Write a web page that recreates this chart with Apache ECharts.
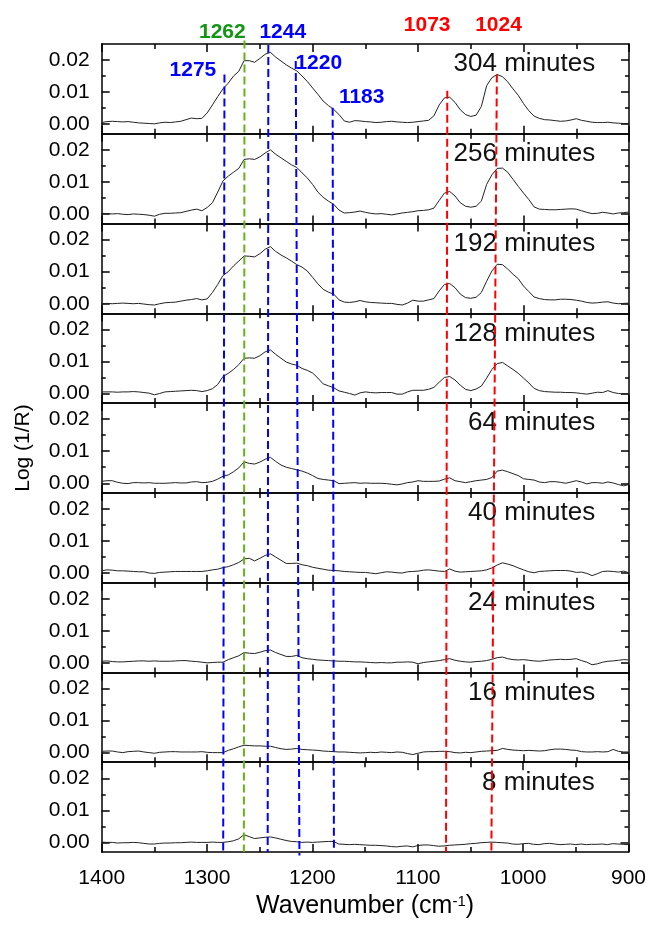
<!DOCTYPE html>
<html><head><meta charset="utf-8">
<script src="https://cdn.jsdelivr.net/npm/echarts@6/dist/echarts.min.js"></script>
<style>html,body{margin:0;padding:0;background:#fff}#c{width:649px;height:930px}</style>
</head><body><div id="c"></div>
<script>
// values in units of 0.001 Log(1/R)
const UNIT = 0.001;
const wavenumbers = [1400,1395,1390,1385,1380,1375,1370,1365,1360,1355,1350,1345,1340,1335,1330,1325,1320,1315,1310,1305,1300,1295,1290,1285,1280,1275,1270,1265,1260,1255,1250,1245,1240,1235,1230,1225,1220,1215,1210,1205,1200,1195,1190,1185,1180,1175,1170,1165,1160,1155,1150,1145,1140,1135,1130,1125,1120,1115,1110,1105,1100,1095,1090,1085,1080,1075,1070,1065,1060,1055,1050,1045,1040,1035,1030,1025,1020,1015,1010,1005,1000,995,990,985,980,975,970,965,960,955,950,945,940,935,930,925,920,915,910,905,900];

const s304 = [0.5,0.8,0.9,0.8,0.7,0.8,0.6,0.4,0.3,0.2,
 0.1,0.4,0.6,0.5,0.7,0.9,1.4,1.9,1.7,1.8,
 3.5,6.0,8.6,11.0,12.8,15.0,16.5,19.8,19.8,19.3,
 20.5,21.8,22.4,20.9,19.7,18.5,17.5,16.6,15.0,13.3,
 11.3,9.3,7.2,5.8,4.6,3.0,1.0,0.6,1.1,1.0,
 0.8,0.7,0.5,0.6,0.8,0.9,0.7,0.6,0.5,0.6,
 0.8,1.0,1.2,2.6,6.0,8.2,8.4,6.8,4.5,3.0,
 2.4,2.8,5.5,12.0,14.5,15.5,14.8,13.2,11.0,9.0,
 6.4,4.2,2.5,1.8,1.4,1.3,1.1,0.9,1.0,1.3,
 1.7,1.2,0.9,0.6,0.5,0.5,0.6,0.4,0.3,0.2,0.1];
const s256 = [0.2,0.1,0.0,0.1,-0.1,-0.2,0.0,-0.1,-0.2,-0.4,
 -0.7,-0.1,0.2,0.2,0.3,0.4,0.8,1.2,1.5,1.0,
 2.0,3.5,6.8,10.3,11.8,13.0,14.2,17.0,17.2,17.0,
 17.8,19.0,20.0,18.6,17.5,16.4,15.3,14.5,12.8,11.2,
 9.2,6.8,5.2,4.0,3.0,1.2,0.3,0.4,0.6,0.9,
 0.5,0.2,0.0,0.1,-0.1,-0.3,0.0,0.3,0.5,0.7,
 1.0,1.1,1.3,1.8,4.2,6.5,7.0,5.6,3.5,2.4,
 2.1,2.4,4.0,9.2,12.2,14.2,14.3,13.0,10.8,8.6,
 6.5,4.5,2.2,1.5,1.4,1.3,1.3,1.4,1.5,1.6,
 1.5,1.0,0.5,0.1,0.2,0.5,0.3,0.0,0.3,0.4,0.6];
const s192 = [0.0,0.1,0.0,0.1,0.2,0.1,0.0,0.1,-0.1,-0.3,
 -0.4,0.0,0.3,0.4,0.5,0.8,1.1,1.3,1.6,1.2,
 1.5,3.5,6.0,8.8,10.0,11.8,13.3,14.9,14.8,14.6,
 15.6,17.0,17.8,16.3,15.2,14.3,13.3,12.2,11.4,10.2,
 8.2,6.2,4.5,3.6,3.0,1.2,0.5,0.4,0.6,1.0,
 0.6,0.4,0.3,0.2,0.1,0.1,-0.2,-0.4,0.2,1.1,
 0.8,0.8,1.2,1.6,4.0,6.0,6.3,5.0,3.0,1.9,
 1.7,2.0,3.5,7.0,10.2,12.3,12.2,10.8,9.2,7.8,
 5.5,3.8,2.1,1.6,1.3,1.2,1.2,1.4,1.4,1.3,
 1.1,0.8,0.4,0.2,0.3,0.5,0.6,0.2,0.0,0.1,0.2];
const s128 = [0.5,0.5,0.5,0.4,0.5,0.5,0.6,0.5,0.3,0.1,
 -0.4,0.0,0.5,0.6,0.7,0.8,0.9,1.0,0.9,0.6,
 0.9,1.5,2.8,5.3,6.3,7.5,9.0,11.0,11.1,11.0,
 11.8,13.0,13.6,12.2,11.0,9.8,9.2,8.8,7.8,7.2,
 6.4,4.8,3.0,2.4,1.8,0.8,0.4,0.0,-0.5,0.2,
 0.5,0.3,0.2,0.3,0.3,0.3,-0.2,-0.2,0.5,1.0,
 1.0,1.0,1.3,1.9,3.5,5.0,5.3,4.2,2.6,1.3,
 0.9,1.4,2.3,4.8,7.5,9.3,9.7,8.6,7.5,6.3,
 4.8,3.3,1.6,0.9,0.6,0.5,0.4,0.4,0.3,0.3,
 0.2,0.0,-0.2,0.1,0.4,0.3,0.9,0.3,0.0,-0.1,0.0];
const s64 = [0.6,0.8,0.8,0.3,0.0,-0.1,0.2,0.2,0.1,0.2,
 0.0,0.0,0.0,0.1,0.2,0.1,0.1,0.4,0.5,0.2,
 0.3,0.6,1.3,2.2,2.6,3.6,4.8,6.7,6.2,6.0,
 6.6,7.5,8.1,6.8,5.7,5.0,4.6,4.2,3.8,3.2,
 2.4,1.5,1.2,1.0,0.8,-0.1,0.0,0.1,0.2,0.0,
 0.1,0.0,0.0,0.0,-0.1,-0.3,-0.5,-0.2,0.2,0.4,
 0.8,0.6,0.6,0.6,0.7,1.3,1.7,0.8,0.5,0.2,
 0.5,0.8,1.0,1.2,1.8,3.8,4.1,3.6,3.0,2.4,
 1.4,1.2,1.0,0.4,0.2,0.5,0.5,0.3,0.0,0.4,
 0.8,0.4,-0.2,0.2,0.2,0.0,0.4,0.1,-0.4,-0.8,-0.4];
const s40 = [0.7,1.0,0.9,0.7,0.7,0.6,0.5,0.4,0.4,0.0,
 -0.1,0.2,0.3,0.4,0.5,0.5,0.5,0.5,0.5,0.5,
 0.7,1.0,1.2,1.7,2.0,2.6,3.3,4.4,4.6,3.8,
 4.6,5.5,6.0,5.0,4.0,3.0,3.0,3.1,2.6,2.3,
 1.8,1.5,1.2,0.9,0.8,0.7,0.5,0.4,0.3,0.2,
 0.2,0.0,-0.2,0.1,0.4,0.3,0.1,0.0,0.4,0.5,
 0.6,0.9,1.0,0.8,0.6,0.5,1.3,0.6,0.3,0.4,
 0.5,0.6,0.7,1.0,1.6,2.5,3.2,2.8,2.3,1.6,
 1.0,0.4,0.1,0.5,0.6,0.7,0.8,0.8,0.8,0.6,
 0.2,0.3,-0.1,-0.8,-0.2,0.5,0.6,0.5,0.3,0.6,0.1];
const s24 = [0.5,0.6,0.4,0.3,0.3,0.4,0.5,0.6,0.6,0.5,
 0.6,0.5,0.5,0.5,0.6,0.7,0.7,0.5,0.4,0.2,
 0.0,0.1,0.2,0.2,1.0,1.6,2.2,3.2,3.0,2.9,
 3.3,3.8,4.0,3.2,2.6,2.0,2.0,2.3,1.6,1.3,
 1.1,0.9,0.8,0.7,0.6,0.5,0.5,0.4,0.3,0.3,
 0.2,0.1,0.0,0.1,0.0,0.0,0.2,0.2,0.3,0.2,
 -0.3,0.1,0.3,0.5,0.7,1.0,1.3,0.8,0.5,0.3,
 0.2,0.4,0.5,0.7,1.1,1.6,1.8,1.3,1.0,0.9,
 1.0,0.8,0.6,0.5,0.7,0.9,1.0,1.1,1.0,1.1,
 1.3,0.7,0.2,-0.6,-0.3,0.2,0.5,0.6,0.8,1.0,0.9];
const s16 = [0.4,0.5,0.5,0.2,0.0,0.3,0.4,0.5,0.2,0.0,
 -0.2,0.1,0.2,0.3,0.3,0.2,0.2,0.2,0.2,0.3,
 0.1,0.0,0.0,0.0,0.7,1.2,1.8,2.3,2.2,2.1,
 2.1,2.0,2.0,1.6,1.2,1.0,1.1,1.3,1.0,0.9,
 0.8,0.7,0.5,0.4,0.3,0.2,0.2,0.1,0.0,-0.1,
 0.0,0.1,0.0,0.2,0.1,0.0,0.2,0.1,-0.3,-0.6,
 -0.2,0.2,0.3,0.3,0.4,0.4,0.3,0.0,-0.1,0.1,
 0.0,0.2,0.4,0.5,0.6,0.7,1.3,1.0,0.8,0.7,
 0.6,0.7,0.6,0.5,0.6,0.9,1.1,1.1,1.0,0.8,
 0.7,0.3,0.2,0.2,0.3,0.2,0.3,1.0,0.4,0.2,0.2];
const s8 = [0.1,0.0,0.0,-0.2,-0.1,-0.1,0.0,-0.1,-0.3,-0.5,
 -0.5,-0.3,-0.2,-0.2,-0.1,-0.1,0.0,0.1,0.0,0.0,
 0.0,0.1,0.0,0.0,0.2,0.5,1.1,2.4,1.8,1.2,
 1.4,1.6,1.7,1.4,1.0,0.6,0.3,0.2,0.0,0.1,
 0.0,0.1,0.2,0.3,0.3,-0.5,-0.6,-0.7,-0.6,-0.7,
 -0.8,-0.9,-0.9,-1.0,-1.1,-1.3,-1.4,-1.2,-1.1,-1.4,
 -1.0,-0.8,-0.8,-1.0,-1.2,-1.1,-0.9,-0.8,-0.7,-0.6,
 -0.4,-0.3,-0.1,0.0,0.1,0.0,-0.1,-0.2,-0.5,-0.6,
 -0.4,-0.3,-0.6,-0.7,-0.4,-0.3,-0.5,-0.7,-0.6,-0.5,
 -0.7,-0.5,-0.7,-0.6,-0.6,-0.5,-0.7,-0.4,-0.5,-0.6,-0.7];

const panelSeries = [s304, s256, s192, s128, s64, s40, s24, s16, s8];
const panelLabels = ['304 minutes','256 minutes','192 minutes','128 minutes','64 minutes','40 minutes','24 minutes','16 minutes','8 minutes'];
const yTickLabels = [0, 10, 20];
const yMinorTicks = [5, 15];

// band markers (wavenumber at top / bottom of the stack, level in panel units from the bottom)
const markerLabels = ['1275','1262','1244','1220','1183','1073','1024'];
const markerTopWn = [1283.6,1264.6,1242.0,1216.0,1181.0,1072.3,1025.3];
const markerBottomWn = [1284.8,1265.2,1242.6,1212.5,1179.8,1073.5,1030.5];
const markerTopLevel = [8.66,9.04,8.99,8.81,8.29,8.48,8.66];
const markerBottomLevel = [0,0,0,-0.04,0,0,0];
const markerLabelWn = [1313.5,1285.6,1228.3,1194.2,1153.5,1091.4,1023.7];
const markerLabelLevel = [8.71,9.135,9.135,8.785,8.41,9.205,9.205];
const markerGroup = ['b','g','b','b','b','r','r'];

const lineColors = {b:'#0000ff', g:'#66b319', r:'#ff0000'};
const textColors = {b:'#0000ff', g:'#139613', r:'#ff0000'};

const N = panelSeries.length;
const TOP = 44, PH = 89.78, LEFT = 101.7, RIGHT = 20;
const FONT = '"Liberation Sans", Arial, sans-serif';
const YMIN = -3, YMAX = 25;

const grid = [], xAxis = [], yAxis = [], series = [];
const lineBlack = {color:'#000', width:1.5};
for (let i = 0; i < N; i++) {
  grid.push({left: LEFT, right: RIGHT, top: TOP + i*PH, height: PH});
  const isLast = i === N-1;
  ['bottom','top'].forEach(pos => {
    xAxis.push({
      gridIndex: i, type:'value', min:900, max:1400, interval:100, inverse:true, position:pos,
      axisLine:{show:true, onZero:false, lineStyle:lineBlack},
      axisTick:{show:true, inside:true, length:8, lineStyle:lineBlack},
      minorTick:{show:true, splitNumber:2, length:5, lineStyle:lineBlack},
      splitLine:{show:false}, minorSplitLine:{show:false},
      axisLabel:{show: isLast && pos==='bottom', fontSize:21, color:'#000', margin:16, fontFamily:FONT,
        formatter: v => String(v)},
      name: (isLast && pos==='bottom') ? 'Wavenumber (cm{sup|-1})' : '',
      nameLocation:'middle', nameGap:42,
      nameTextStyle:{fontSize:25, color:'#000', fontFamily:FONT, rich:{sup:{fontSize:15, color:'#000', verticalAlign:'top', fontFamily:FONT}}}
    });
  });
  ['left','right'].forEach(pos => {
    yAxis.push({
      gridIndex:i, type:'value', min:YMIN, max:YMAX, position:pos,
      axisLine:{show:true, onZero:false, lineStyle:lineBlack},
      axisTick:{show:true, inside:true, length:8, customValues:yTickLabels, lineStyle:lineBlack},
      axisLabel:{show: pos==='left', customValues:yTickLabels, fontSize:21, color:'#000', margin:12, fontFamily:FONT,
        formatter: v => (v*UNIT).toFixed(2)},
      splitLine:{show:false},
      name: (pos==='left' && i===4) ? 'Log (1/R)' : '',
      nameLocation:'middle', nameGap:68, nameRotate:90,
      nameTextStyle:{fontSize:21, color:'#000', fontFamily:FONT}
    });
    yAxis.push({
      gridIndex:i, type:'value', min:YMIN, max:YMAX, position:pos,
      axisLine:{show:false},
      axisTick:{show:true, inside:true, length:4, customValues:yMinorTicks, lineStyle:lineBlack},
      axisLabel:{show:false}, splitLine:{show:false}
    });
  });
  series.push({
    type:'line', xAxisIndex:2*i, yAxisIndex:4*i, showSymbol:false, symbol:'none', silent:true,
    data: wavenumbers.map((w,k) => [w, panelSeries[i][k]]),
    lineStyle:{color:'#222', width:1}
  });
  series.push({
    type:'scatter', xAxisIndex:2*i, yAxisIndex:4*i, symbolSize:0, silent:true,
    itemStyle:{opacity:1},
    data:[{name:panelLabels[i], value:[932, 18.7]}],
    label:{show:true, position:'left', distance:0, formatter:'{b}', fontSize:26, color:'#111', opacity:1, fontFamily:FONT}
  });
}
// overlay for the band marker lines spanning all panels
grid.push({left:LEFT, right:RIGHT, top:TOP, height:PH*N});
xAxis.push({gridIndex:N, type:'value', min:900, max:1400, inverse:true, show:false});
yAxis.push({gridIndex:N, type:'value', min:0, max:N, show:false});
const ox = xAxis.length-1, oy = yAxis.length-1;
markerLabels.forEach((lab, j) => {
  series.push({
    type:'line', xAxisIndex:ox, yAxisIndex:oy, symbol:'none', clip:false, silent:true, z:5,
    data:[[markerTopWn[j], markerTopLevel[j]], [markerBottomWn[j], markerBottomLevel[j]]],
    lineStyle:{color:lineColors[markerGroup[j]], width:2, type:[8,4]}
  });
});
series.push({
  type:'scatter', xAxisIndex:ox, yAxisIndex:oy, symbolSize:0, clip:false, silent:true, z:6,
  itemStyle:{opacity:1},
  data: markerLabels.map((lab,j) => ({name:lab, value:[markerLabelWn[j], markerLabelLevel[j]],
    label:{color:textColors[markerGroup[j]]}})),
  label:{show:true, position:'inside', formatter:'{b}', fontSize:21, fontWeight:'bold', opacity:1, fontFamily:FONT}
});

const chart = echarts.init(document.getElementById('c'), null, {renderer:'canvas'});
chart.setOption({animation:false, backgroundColor:'#fff', textStyle:{fontFamily:FONT}, grid, xAxis, yAxis, series});
</script></body></html>
